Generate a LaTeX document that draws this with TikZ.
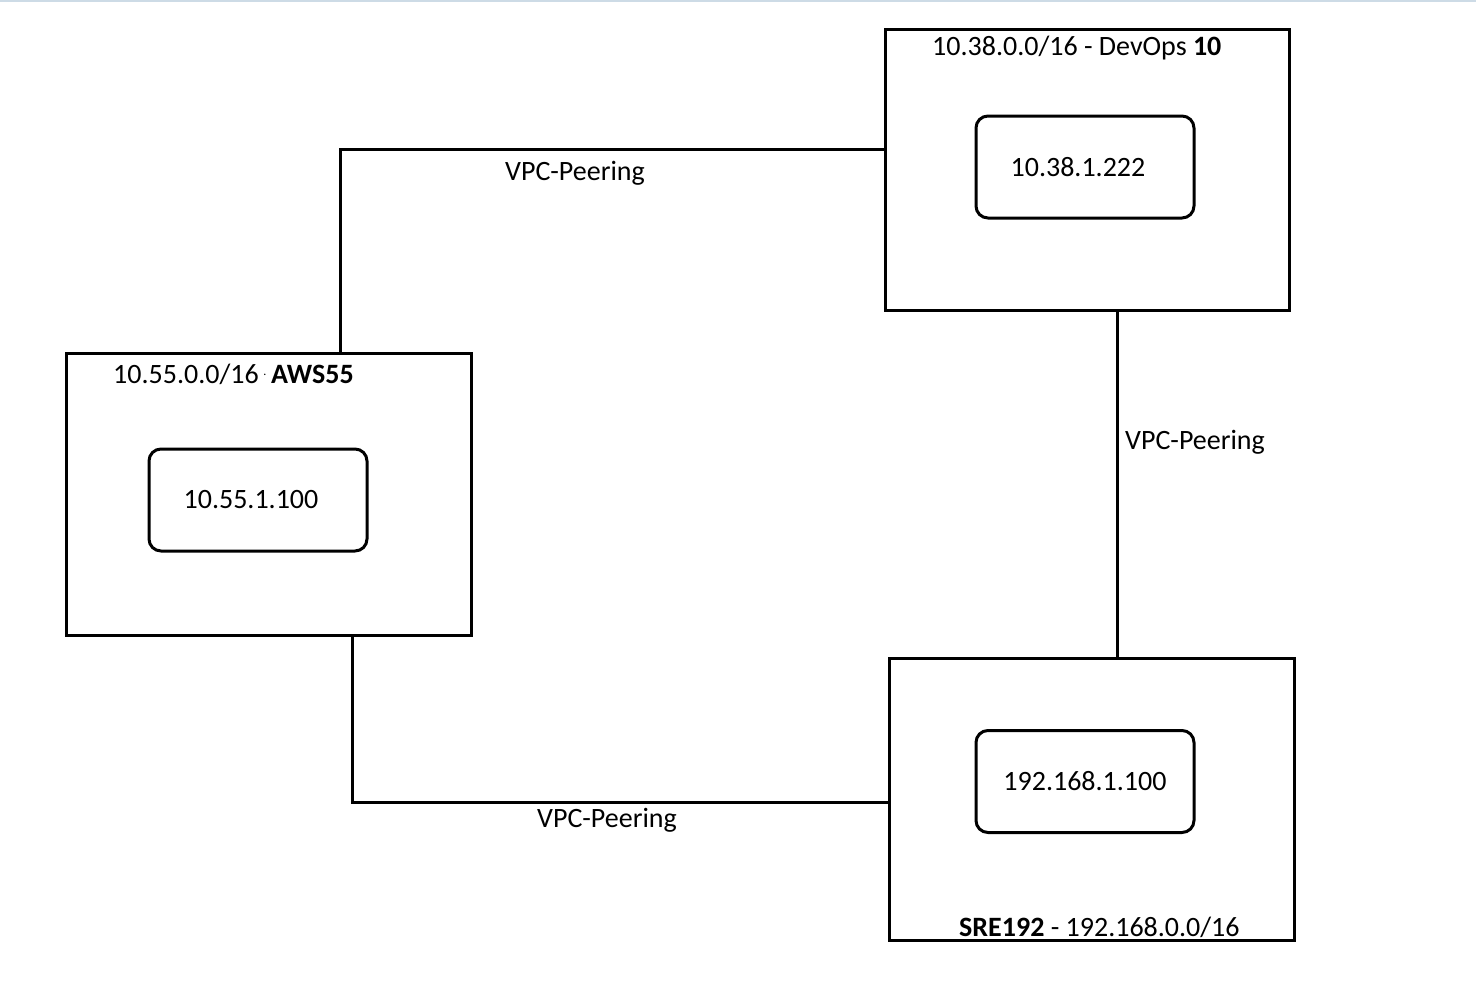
\documentclass[tikz,border=0pt]{standalone}
\usepackage{fontspec}
\setmainfont{Carlito}
\usetikzlibrary{calc}
\begin{document}
\begin{tikzpicture}[x=1pt,y=-1pt,
  vpc/.style={draw=black,line width=3pt,rectangle,inner sep=0pt,outer sep=0pt},
  host/.style={draw=black,line width=3pt,rectangle,rounded corners=12pt,inner sep=0pt,outer sep=0pt,minimum width=218pt,minimum height=102pt,font=\fontsize{28}{32}\selectfont},
  lbl/.style={inner sep=0pt,font=\fontsize{28}{32}\selectfont},
  link/.style={draw=black,line width=3pt}]
\useasboundingbox (0,0) rectangle (1476,988);
\fill[white] (0,0) rectangle (1476,988);
\draw[color={rgb,255:red,205;green,219;blue,230},line width=2pt] (0,1) -- (1476,1);
% outer VPC boxes
\node[vpc,minimum width=404pt,minimum height=281pt] (devops) at (1087,169.5) {};
\node[vpc,minimum width=405pt,minimum height=282pt] (aws) at (268.5,494) {};
\node[vpc,minimum width=405pt,minimum height=282pt] (sre) at (1091.5,799) {};
% hosts
\node[host] (h1) at (1085,167) {\hspace*{-14pt}\raisebox{-1pt}{10.38.1.222}};
\node[host] (h2) at (258,500) {\hspace*{-14pt}10.55.1.100};
\node[host] (h3) at (1085,781.5) {\raisebox{-1pt}{192.168.1.100}};
% titles
\node[lbl,anchor=west] (t1) at (932,48) {10.38.0.0/16 - DevOps \textbf{10}};
\node[lbl,anchor=west] (t2) at (113,374) {10.55.0.0/16\,\raisebox{8pt}{\fontsize{12}{14}\selectfont.}\,\textbf{AWS55}};
\node[lbl,anchor=west] (t3) at (959,927) {\textbf{SRE192} - 192.168.0.0/16};
% connectors
\draw[link] ($(aws.north west)+(274,0)$) |- ($(devops.north west)+(0,120)$);
\draw[link] ($(devops.south west)+(232,0)$) -- ($(sre.north west)+(228,0)$);
\draw[link] ($(aws.south west)+(286,0)$) |- ($(sre.north west)+(0,144)$);
% labels
\node[lbl] (l1) at (575,173) {VPC-Peering};
\node[lbl] (l2) at (1195,442) {VPC-Peering};
\node[lbl] (l3) at (607,820) {VPC-Peering};
\end{tikzpicture}
\end{document}
